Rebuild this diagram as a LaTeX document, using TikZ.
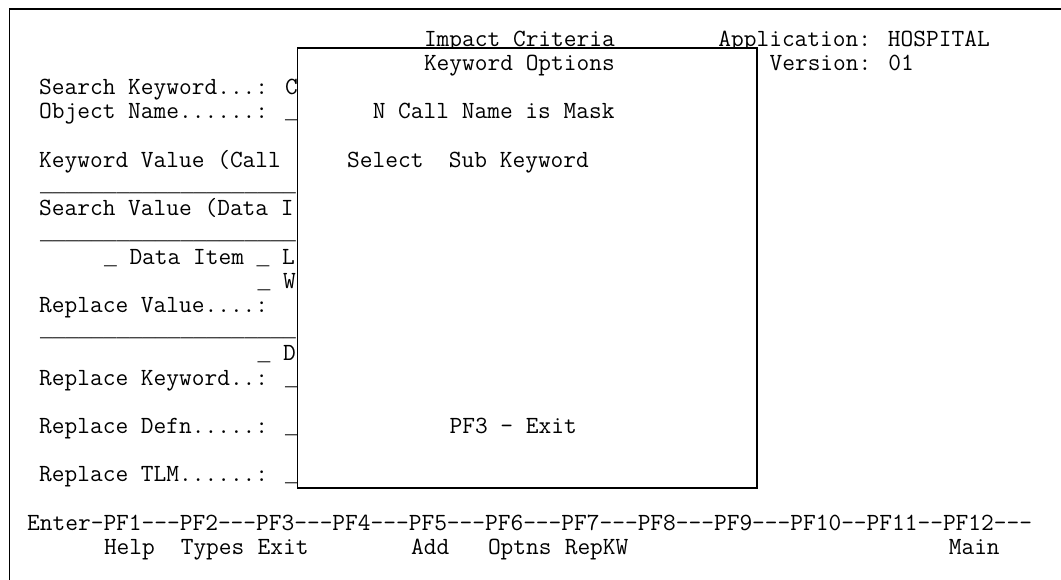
\documentclass[tikz,border=0pt]{standalone}
\usepackage{fontspec}
\newfontfamily\usfont{Liberation Mono}
\newcommand\us{{\usfont\fontsize{21.33}{24}\selectfont\_}}

\begin{document}
\begin{tikzpicture}[x=1pt,y=-1pt,
    scr/.style={anchor=base west, inner sep=0pt, font=\ttfamily\fontsize{24.7}{26}\selectfont},
    frame/.style={black, line width=1.8pt},
    popup/.style={draw=black, fill=white, line width=1.8pt}
  ]
  \useasboundingbox (0,0) rectangle (1061,580);

  % Rahmen
  \coordinate (fbl) at (9.5,580);
  \coordinate (ftl) at (9.5,9);
  \coordinate (ftr) at (1061,9);
  \draw[frame] (fbl) -- (ftl) -- (ftr);

  % Kopf
  \node[scr] (title) at (423.8,46.3) {Impact Criteria};
  \node[scr] (appl) at (718.2,46.3) {Application: HOSPITAL};
  \node[scr] (vers) at (769.4,70.5) {Version: 01};

  % Maske links
  \node[scr] (skw) at (39,94.7) {Search Keyword...: C};
  \node[scr] (obj) at (39,118.9) {Object Name......: \us};
  \node[scr] (kwval) at (39,167.3) {Keyword Value (Call};
  \node[scr] (line1) at (39.8,191.5) {\us\us\us\us\us\us\us\us\us\us\us\us\us\us\us\us\us\us\us\us};
  \node[scr] (sval) at (39,215.7) {Search Value (Data I};
  \node[scr] (line2) at (39.8,239.9) {\us\us\us\us\us\us\us\us\us\us\us\us\us\us\us\us\us\us\us\us};
  \node[scr] (ditem) at (103.8,264.1) {\us{} Data Item \us{} L};
  \node[scr] (optw) at (257.4,288.3) {\us{} W};
  \node[scr] (rval) at (39,312.5) {Replace Value....:};
  \node[scr] (line3) at (39.8,336.7) {\us\us\us\us\us\us\us\us\us\us\us\us\us\us\us\us\us\us\us\us};
  \node[scr] (optd) at (257.4,360.9) {\us{} D};
  \node[scr] (rkw) at (39,385.1) {Replace Keyword..: \us};
  \node[scr] (rdef) at (39,433.5) {Replace Defn.....: \us};
  \node[scr] (rtlm) at (39,481.9) {Replace TLM......: \us};

  % Funktionstasten
  \node[scr] (pfkeys) at (27,530.3) {Enter-PF1---PF2---PF3---PF4---PF5---PF6---PF7---PF8---PF9---PF10--PF11--PF12---};
  \foreach \c/\t in {6/Help,12/Types,18/Exit,30/Add,36/Optns,42/RepKW,72/Main}
    \node[scr] (key\c) at (27+12.8*\c,554.5) {\t};

  % Fenster Keyword Options
  \draw[popup] (297.5,48.3) rectangle (757.3,488.3);
  \node[scr] (kwopt) at (423.8,70.5) {Keyword Options};
  \node[scr] (mask) at (372.6,118.9) {N Call Name is Mask};
  \node[scr] (sel) at (347,167.3) {Select~~Sub Keyword};
  \node[scr] (pfexit) at (449.4,433.5) {PF3 - Exit};
\end{tikzpicture}
\end{document}
